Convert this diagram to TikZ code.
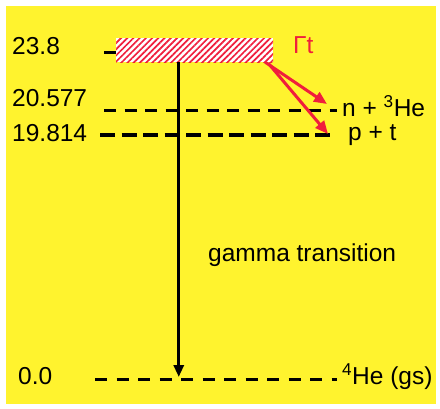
\documentclass[tikz,border=0pt]{standalone}
\usepackage{fontspec}
\setmainfont{Liberation Sans}
\usetikzlibrary{positioning, arrows.meta, calc, patterns.meta}
\definecolor{bgyellow}{RGB}{255,243,46}
\definecolor{decayred}{RGB}{240,30,60}

\begin{document}
\begin{tikzpicture}[x=1pt, y=-1pt,
    lbl/.style={anchor=west, inner sep=0pt, font=\fontsize{24.5}{27}\selectfont},
    level/.style={line width=3pt, dash pattern=on 12pt off 8.5pt},
    decay/.style={-{Triangle[length=13pt,width=11pt]}, line width=3pt, decayred}
  ]
  \useasboundingbox (0,0) rectangle (440,408);
  \fill[bgyellow] (6,6) rectangle (436,404);

  % Resonanz (schraffiert)
  \node (res) at (194.5,50) [minimum width=157pt, minimum height=24pt, inner sep=0pt,
    fill=white, postaction={pattern={Lines[angle=45, distance=4.4pt, line width=1.7pt]},
    pattern color=decayred}] {};
  \coordinate (m238) at (104,52);
  \draw[line width=3pt] (m238) -- (res.west |- m238);

  % Niveaus
  \coordinate (l20a) at (104,110);
  \coordinate (l20b) at (337,110);
  \coordinate (l19a) at (100,135);
  \coordinate (l19b) at (331,135);
  \coordinate (l0a) at (95,379);
  \coordinate (l0b) at (337,379);
  \draw[level] (l20a) -- (l20b);
  \draw[level, line width=4pt, dash pattern=on 15pt off 6.5pt] (l19a) -- (l19b);
  \draw[level, dash pattern=on 12pt off 9.5pt] (l0a) -- (l0b);

  % Energien
  \node[lbl] (e238) at (12,46) {23.8};
  \node[lbl] (e20) at (12,98) {20.577};
  \node[lbl] (e19) at (12,133) {19.814};
  \node[lbl] (e0) at (18,376) {0.0};

  % Kanaele
  \node[lbl] (nhe) at (342,106) {n + \textsuperscript{3}He};
  \node[lbl] (pt) at (348,135) {p + t};
  \node[lbl] (gs) at (342,377) {\textsuperscript{4}He (gs)};
  \node[lbl, decayred] (gam) at (293,45) {Γt};

  % Gamma-Uebergang
  \coordinate (gtop) at ($(res.south west)!0.4!(res.south east)$);
  \coordinate (gbot) at (gtop |- 0,377);
  \draw[-{Triangle[length=12pt,width=10pt]}, line width=3.3pt] (gtop) -- (gbot);
  \node[lbl] (gtr) at (208,255) {gamma transition};

  % Zerfaelle
  \draw[decay] ($(res.south east)+(-8,0)$) -- (327,104);
  \draw[decay] ($(res.south east)+(-5,1)$) -- (328,134);
\end{tikzpicture}
\end{document}
